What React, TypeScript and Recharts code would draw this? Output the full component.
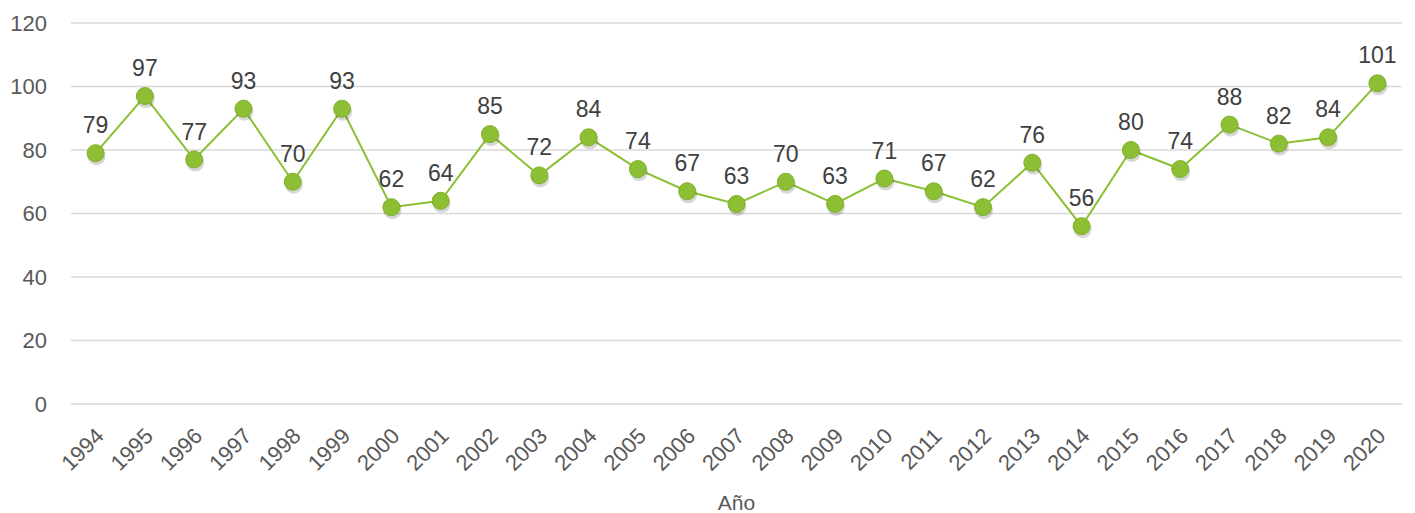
import { LineChart, Line, XAxis, YAxis, CartesianGrid, LabelList } from "recharts"

const years = [
  "1994", "1995", "1996", "1997", "1998", "1999", "2000", "2001", "2002", "2003",
  "2004", "2005", "2006", "2007", "2008", "2009", "2010", "2011", "2012", "2013",
  "2014", "2015", "2016", "2017", "2018", "2019", "2020",
]
const values = [79, 97, 77, 93, 70, 93, 62, 64, 85, 72, 84, 74, 67, 63, 70, 63, 71, 67, 62, 76, 56, 80, 74, 88, 82, 84, 101]
const yTicks = [0, 20, 40, 60, 80, 100, 120]

const data = years.map((year, i) => ({ year, value: values[i] }))

const FONT = "'Liberation Sans', Arial, sans-serif"
const GREEN = "#8cbf34"

function YearTick({ x, y, payload }: any) {
  return (
    <g transform={`translate(${x + 4},${y + 28}) rotate(-45)`}>
      <text textAnchor="end" dy="0.35em" fill="#595959" fontSize={22} fontFamily={FONT}>
        {payload.value}
      </text>
    </g>
  )
}

function Dot({ cx, cy }: any) {
  if (cx == null || cy == null) return null
  return (
    <g>
      <circle cx={cx + 1} cy={cy + 3} r={9} fill="rgba(0,0,0,0.16)" />
      <circle cx={cx} cy={cy} r={8.5} fill={GREEN} stroke="#7fb02c" strokeWidth={1} />
    </g>
  )
}

export default function App() {
  return (
    <div style={{ position: "absolute", left: 0, top: 0, width: 1415, height: 513, background: "#fff" }}>
      <LineChart width={1415} height={513} data={data} margin={{ top: 23, right: 13, bottom: 0, left: 0 }}>
        <CartesianGrid vertical={false} stroke="#d9d9d9" strokeWidth={1.5} />
        <XAxis
          dataKey="year"
          axisLine={false}
          tickLine={false}
          tickSize={0}
          tickMargin={0}
          interval={0}
          height={109}
          padding={{ left: 24.6, right: 24.6 }}
          tick={<YearTick />}
          label={{ value: "Año", position: "insideBottom", offset: 3, fill: "#595959", fontSize: 21, fontFamily: FONT }}
        />
        <YAxis
          domain={[0, 120]}
          ticks={yTicks}
          axisLine={false}
          tickLine={false}
          tickSize={0}
          tickMargin={24}
          width={71}
          tick={{ fill: "#595959", fontSize: 22, fontFamily: FONT }}
        />
        <Line
          type="linear"
          dataKey="value"
          stroke={GREEN}
          strokeWidth={2}
          dot={<Dot />}
          activeDot={false}
          isAnimationActive={false}
        >
          <LabelList dataKey="value" position="top" offset={20} fill="#404040" fontSize={23} fontFamily={FONT} />
        </Line>
      </LineChart>
    </div>
  )
}
